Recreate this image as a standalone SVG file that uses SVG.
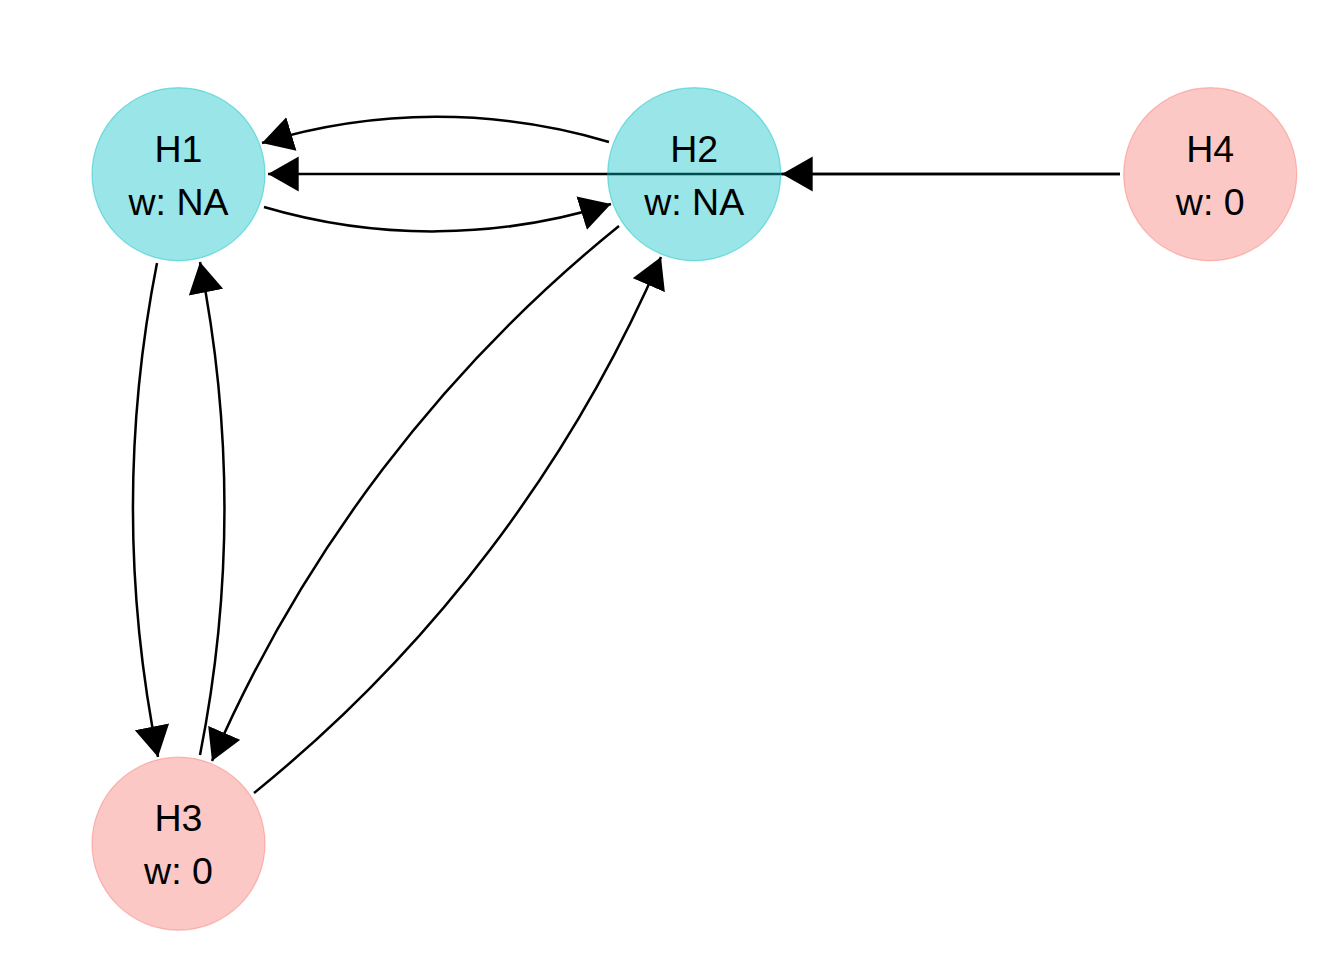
<svg xmlns="http://www.w3.org/2000/svg" width="1344" height="960" viewBox="0 0 1344 960">
<defs>
<marker id="arr" markerUnits="userSpaceOnUse" markerWidth="32" markerHeight="36" viewBox="0 -17 30 34" refX="29" refY="0" orient="auto">
<path d="M0,-16.5 L29,0 L0,16.5 Z" fill="#000"/>
</marker>
</defs>
<style>
.edge{fill:none;stroke:#000;stroke-width:2.5;marker-end:url(#arr)}
.teal{fill:#00BFC4;fill-opacity:0.4;stroke:#00BFC4;stroke-opacity:0.45;stroke-width:1.2}
.pink{fill:#F8766D;fill-opacity:0.4;stroke:#F8766D;stroke-opacity:0.45;stroke-width:1.2}
text{font-family:"Liberation Sans",Arial,sans-serif;font-size:37.5px;fill:#000;text-anchor:middle}
</style>
<rect width="1344" height="960" fill="#fff"/>
<g id="connectors">
<path class="edge" d="M609,142 A600,600 0 0 0 262,143"/>
<path class="edge" d="M264,207 A595,595 0 0 0 611,204"/>
<path class="edge" d="M1120,174 L268,174"/>
<path class="edge" d="M1120,174 L782,174"/>
<path class="edge" d="M157,263 A1266,1266 0 0 0 158,757"/>
<path class="edge" d="M200,755 A1266,1266 0 0 0 200,262"/>
<path class="edge" d="M619,226 A1406,1406 0 0 0 212,761"/>
<path class="edge" d="M254,793 A1406,1406 0 0 0 661,257"/>
</g>
<g id="H1">
<circle class="teal" cx="178.5" cy="174.2" r="86.5"/>
<text x="178.5" y="161.7">H1</text>
<text x="178.5" y="215">w: NA</text>
</g>
<g id="H2">
<circle class="teal" cx="694.2" cy="174.2" r="86.5"/>
<text x="694.2" y="161.7">H2</text>
<text x="694.2" y="215">w: NA</text>
</g>
<g id="H4">
<circle class="pink" cx="1210.2" cy="174.2" r="86.5"/>
<text x="1210.2" y="161.7">H4</text>
<text x="1210.2" y="215">w: 0</text>
</g>
<g id="H3">
<circle class="pink" cx="178.5" cy="843.7" r="86.5"/>
<text x="178.5" y="830.5">H3</text>
<text x="178.5" y="884.3">w: 0</text>
</g>
</svg>
